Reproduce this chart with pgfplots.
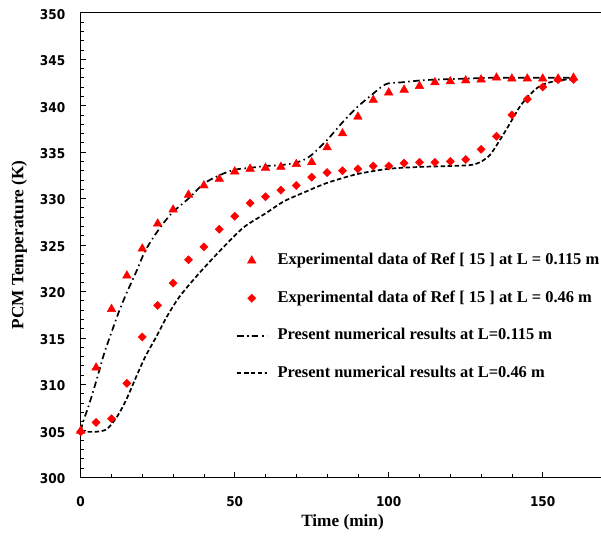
\documentclass[border=0pt]{standalone}
\usepackage{pgfplots}
\pgfplotsset{compat=1.18}
\usepackage{fontspec}
\setmainfont{Liberation Serif}
\newfontfamily\tickfont{DejaVu Sans Condensed}

\definecolor{expred}{RGB}{255,0,0}

\begin{document}
\begin{tikzpicture}
\begin{axis}[
    at={(80.7bp,58.7bp)}, anchor=south west,
    scale only axis,
    width=523.6bp, height=464.6bp,
    xmin=0, xmax=170, ymin=300, ymax=350,
    xtick={0,50,100,150}, minor x tick num=4,
    ytick={300,305,...,350}, minor y tick num=4,
    tick pos=left, tick align=inside,
    major tick length=5bp, minor tick length=3bp,
    every tick/.style={black, line width=0.7bp},
    axis line style={line width=0.9bp},
    clip=false,
    /pgf/number format/assume math mode=true,
    tick label style={font=\tickfont\bfseries\fontsize{13.5}{16}\selectfont},
    yticklabel style={xshift=-12bp, yshift=-1.5bp},
    xticklabel style={yshift=-15.5bp},
    xlabel={Time (min)},
    ylabel={PCM Temperature (K)},
    label style={font=\bfseries\fontsize{17.3}{20}\selectfont},
    xlabel style={at={(axis description cs:0.5,-0.1055)}, anchor=base},
    ylabel style={at={(axis description cs:-0.1096,0.5)}, anchor=base},
    legend cell align=left,
    legend image code/.code={\draw[mark repeat=2,mark phase=2,#1] plot coordinates {(0bp,0bp) (15bp,0bp) (30bp,0bp)};},
    legend style={at={(0.296,0.483)}, anchor=north west, draw=none, fill=none,
        inner sep=0pt, row sep=22.3bp,
        font=\bfseries\fontsize{16.5}{19}\selectfont,
        nodes={inner sep=0pt, text height=11.5bp, text depth=3.7bp},
        /tikz/every odd column/.append style={column sep=10bp}},
]
% experimental, L = 0.115 m
\addplot[only marks, mark=triangle*, mark size=5bp, color=expred] coordinates {
(0,305.0) (5,311.8) (10,318.1) (15,321.7) (20,324.6) (25,327.3) (30,328.8)
(35,330.4) (40,331.4) (45,332.1) (50,332.9) (55,333.2) (60,333.3) (65,333.4)
(70,333.7) (75,333.9) (80,335.5) (85,337.0) (90,338.8) (95,340.6) (100,341.4)
(105,341.7) (110,342.1) (115,342.5) (120,342.6) (125,342.7) (130,342.8)
(135,343.0) (140,342.9) (145,342.9) (150,342.9) (155,342.9) (160,343.0)
};
% experimental, L = 0.46 m
\addplot[only marks, mark=square*, mark size=2.9bp, mark options={rotate=45}, color=expred] coordinates {
(0,304.9) (5,305.9) (10,306.3) (15,310.1) (20,315.1) (25,318.5) (30,320.9)
(35,323.4) (40,324.8) (45,326.7) (50,328.1) (55,329.5) (60,330.2) (65,330.9)
(70,331.4) (75,332.3) (80,332.8) (85,333.0) (90,333.2) (95,333.5) (100,333.5)
(105,333.8) (110,333.9) (115,333.9) (120,334.0) (125,334.2) (130,335.3)
(135,336.7) (140,339.0) (145,340.7) (150,342.0) (155,342.8) (160,342.8)
};
% numerical, L = 0.115 m
\addplot[black, line width=1.7bp, smooth, dash pattern=on 6.5bp off 3.5bp on 1.5bp off 3.5bp] coordinates {
(0,305.0) (1,306.2) (2.5,307.6) (5,310.3) (7.5,313.2) (10,315.6) (12.5,317.9)
(15,319.9) (18,322.1) (21,324.4) (25,326.5) (29.5,328.4) (35,330.0) (40,331.6)
(45,332.5) (50,333.1) (55,333.3) (60,333.5) (65,333.6) (69,333.8) (72,334.1)
(75,334.7) (80,336.3) (85,338.2) (90,339.9) (95,341.3) (98,342.1) (100,342.4)
(104,342.5) (110,342.7) (115,342.8) (125,342.9) (135,343.0) (160,343.0)
};
% numerical, L = 0.46 m
\addplot[black, line width=1.7bp, smooth, dash pattern=on 4.5bp off 2.5bp] coordinates {
(0,304.9) (5,304.9) (8,305.1) (10,305.7) (12.5,306.9) (15,308.5) (18,310.8)
(21,313.0) (24.5,315.1) (28,317.3) (32,319.4) (37.5,321.6) (43,323.6)
(48.5,325.5) (53.3,327.0) (60,328.4) (66,329.7) (72.8,330.7) (79.3,331.6)
(85,332.2) (90.7,332.7) (100,333.2) (110,333.4) (120,333.5) (126.4,333.6)
(129.6,333.9) (132.9,334.7) (136.1,336.3) (139.4,338.1) (142.6,339.9)
(145.9,341.2) (149.1,342.1) (153.4,342.6) (160,342.9)
};
\legend{Experimental data of Ref [ 15 ] at L = 0.115 m,
        Experimental data of Ref [ 15 ] at L = 0.46 m,
        Present numerical results at L=0.115 m,
        Present numerical results at L=0.46 m}
\end{axis}
\pgfresetboundingbox
\useasboundingbox (0,0) rectangle (601bp,536bp);
\end{tikzpicture}
\end{document}
